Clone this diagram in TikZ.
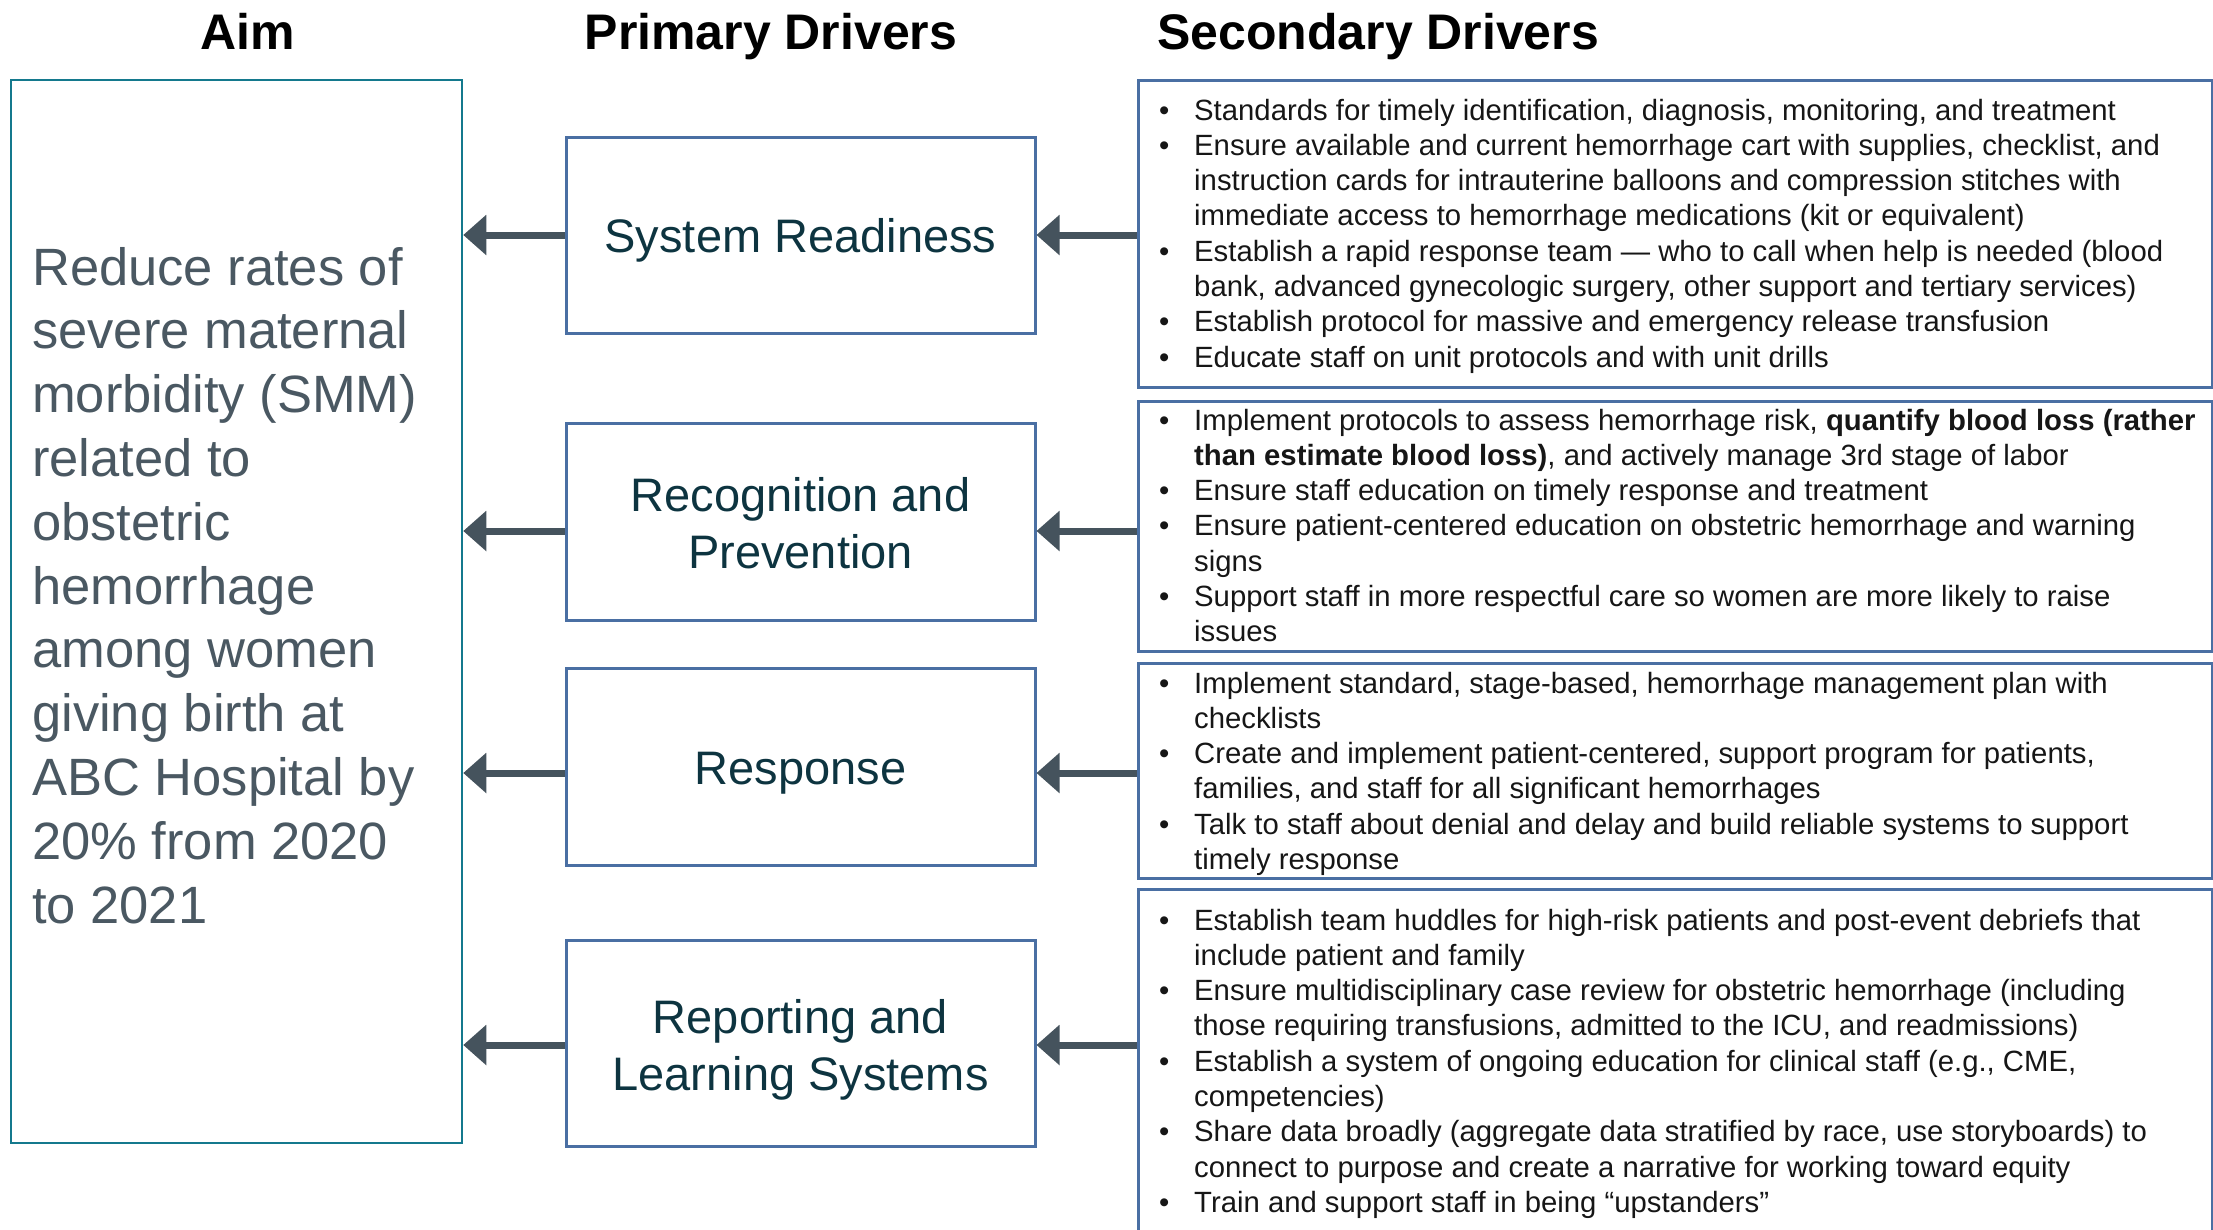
\documentclass[tikz,border=0pt]{standalone}
\usepackage{fontspec}
\setmainfont{Liberation Sans}
\usetikzlibrary{arrows.meta,fit}
\definecolor{aimteal}{HTML}{14798D}
\definecolor{boxblue}{HTML}{4A6FA3}
\definecolor{arrowgray}{HTML}{45535D}
\definecolor{aimtext}{HTML}{4A5862}
\definecolor{primtext}{HTML}{0D3440}
\definecolor{sectext}{HTML}{161616}
\newcommand\sitem[1]{\makebox[35pt][l]{•}&#1\\}
\newcommand\scont[1]{&#1\\}
\begin{document}
\begin{tikzpicture}[x=1pt,y=-1pt,
  head/.style={font=\bfseries\fontsize{50}{60}\selectfont, text=black, inner sep=0pt},
  aimbox/.style={draw=aimteal, line width=2.5pt, inner sep=0pt},
  pbox/.style={draw=boxblue, line width=3pt, inner sep=0pt},
  sbox/.style={draw=boxblue, line width=3pt, inner sep=0pt},
  ptext/.style={font=\fontsize{47}{57}\selectfont, text=primtext, align=center, inner sep=0pt},
  stext/.style={font=\fontsize{29.3}{35.3}\selectfont, text=sectext, inner sep=0pt, anchor=base west},
  arr/.style={draw=arrowgray, line width=7pt, -{Triangle[width=39pt,length=23pt]}}
]
\path[use as bounding box] (0,0) rectangle (2213,1229);
\clip (0,0) rectangle (2213,1229);

% headings
\node[head, anchor=base] (haim) at (248,49) {Aim};
\node[head, anchor=base] (hprim) at (771,49) {Primary Drivers};
\node[head, anchor=base west] (hsec) at (1157,49) {Secondary Drivers};

% aim
\node[aimbox, fit={(11,80)(462,1143)}] (aim) {};
\node[anchor=base west, inner sep=0pt, text=aimtext, font=\fontsize{52.5}{63.8}\selectfont] (aimt) at (32,285)
{\begin{tabular}[t]{@{}l@{}}
Reduce rates of\\
severe maternal\\
morbidity (SMM)\\
related to\\
obstetric\\
hemorrhage\\
among women\\
giving birth at\\
ABC Hospital by\\
20\% from 2020\\
to 2021
\end{tabular}};

% primary drivers
\node[pbox, fit={(566,137)(1035,333)}] (p1) {};
\node[pbox, fit={(566,423)(1035,620)}] (p2) {};
\node[pbox, fit={(566,668)(1035,865)}] (p3) {};
\node[pbox, fit={(566,940)(1035,1146)}] (p4) {};
\node[ptext, yshift=-5pt] (p1t) at (p1.center) {System Readiness};
\node[ptext, yshift=-2pt] (p2t) at (p2.center) {Recognition and\\Prevention};
\node[ptext, yshift=-7pt] (p3t) at (p3.center) {Response};
\node[ptext, yshift=-7pt] (p4t) at (p4.center) {Reporting and\\Learning Systems};

% secondary drivers
\node[sbox, fit={(1138,80)(2212,387)}] (s1) {};
\node[sbox, fit={(1138,401)(2212,651)}] (s2) {};
\node[sbox, fit={(1138,663)(2212,878)}] (s3) {};
\node[sbox, fit={(1138,889)(2212,1260)}] (s4) {};

\node[stext] (s1t) at (1159,120)
{\begin{tabular}[t]{@{}l@{}l@{}}
\sitem{Standards for timely identification, diagnosis, monitoring, and treatment}
\sitem{Ensure available and current hemorrhage cart with supplies, checklist, and}
\scont{instruction cards for intrauterine balloons and compression stitches with}
\scont{immediate access to hemorrhage medications (kit or equivalent)}
\sitem{Establish a rapid response team — who to call when help is needed (blood}
\scont{bank, advanced gynecologic surgery, other support and tertiary services)}
\sitem{Establish protocol for massive and emergency release transfusion}
\sitem{Educate staff on unit protocols and with unit drills}
\end{tabular}};

\node[stext] (s2t) at (1159,430)
{\begin{tabular}[t]{@{}l@{}l@{}}
\sitem{Implement protocols to assess hemorrhage risk, \textbf{quantify blood loss (rather}}
\scont{\textbf{than estimate blood loss)}, and actively manage 3rd stage of labor}
\sitem{Ensure staff education on timely response and treatment}
\sitem{Ensure patient-centered education on obstetric hemorrhage and warning}
\scont{signs}
\sitem{Support staff in more respectful care so women are more likely to raise}
\scont{issues}
\end{tabular}};

\node[stext] (s3t) at (1159,693)
{\begin{tabular}[t]{@{}l@{}l@{}}
\sitem{Implement standard, stage-based, hemorrhage management plan with}
\scont{checklists}
\sitem{Create and implement patient-centered, support program for patients,}
\scont{families, and staff for all significant hemorrhages}
\sitem{Talk to staff about denial and delay and build reliable systems to support}
\scont{timely response}
\end{tabular}};

\node[stext] (s4t) at (1159,930)
{\begin{tabular}[t]{@{}l@{}l@{}}
\sitem{Establish team huddles for high-risk patients and post-event debriefs that}
\scont{include patient and family}
\sitem{Ensure multidisciplinary case review for obstetric hemorrhage (including}
\scont{those requiring transfusions, admitted to the ICU, and readmissions)}
\sitem{Establish a system of ongoing education for clinical staff (e.g., CME,}
\scont{competencies)}
\sitem{Share data broadly (aggregate data stratified by race, use storyboards) to}
\scont{connect to purpose and create a narrative for working toward equity}
\sitem{Train and support staff in being “upstanders”}
\end{tabular}};

% arrow levels
\coordinate (y1) at (0,235);
\coordinate (y2) at (0,531);
\coordinate (y3) at (0,773);
\coordinate (y4) at (0,1045);

\foreach \i in {1,2,3,4}{
  \draw[arr] (s\i.west |- y\i) -- (p\i.east |- y\i);
  \draw[arr] (p\i.west |- y\i) -- (aim.east |- y\i);
}
\end{tikzpicture}
\end{document}
